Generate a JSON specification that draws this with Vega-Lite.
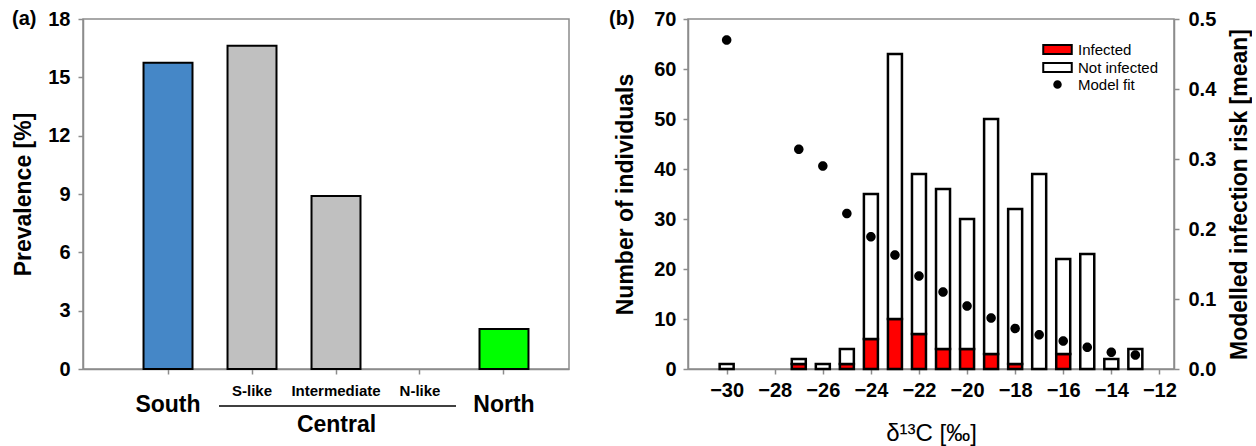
{
  "$schema": "https://vega.github.io/schema/vega-lite/v6.json",
  "background": "white",
  "padding": {"left": 11, "top": 8, "right": 0, "bottom": 0},
  "spacing": 38,
  "resolve": {"scale": {"fill": "independent", "shape": "independent"}, "legend": {"fill": "independent", "shape": "independent"}},
  "config": {
    "font": "Liberation Sans",
    "view": {"stroke": "#8c8c8c", "strokeWidth": 1.5},
    "axis": {
      "grid": false,
      "domainColor": "#8c8c8c",
      "domainWidth": 1.5,
      "tickColor": "#8c8c8c",
      "tickWidth": 1.5,
      "tickSize": 5,
      "labelFont": "Liberation Sans",
      "labelFontSize": 20,
      "labelFontWeight": "bold",
      "labelColor": "black",
      "titleFont": "Liberation Sans",
      "titleFontSize": 23,
      "titleFontWeight": "bold",
      "titleColor": "black"
    },
    "legend": {
      "orient": "none",
      "legendX": 362,
      "legendY": 23,
      "padding": 0,
      "symbolSize": 100,
      "symbolStrokeColor": "black",
      "symbolStrokeWidth": 2,
      "labelFont": "Liberation Sans",
      "labelFontSize": 15,
      "labelColor": "black",
      "labelOffset": 13,
      "rowPadding": 1
    },
    "title": {"font": "Liberation Sans", "fontSize": 20, "fontWeight": "bold", "color": "black"}
  },
  "datasets": {
    "prevalence": [
      {"population": "South", "prevalence": 15.75},
      {"population": "S-like", "prevalence": 16.63},
      {"population": "Intermediate", "prevalence": 8.9},
      {"population": "N-like", "prevalence": 0},
      {"population": "North", "prevalence": 2.06}
    ],
    "regions": [
      {"region": "Central", "first": "S-like", "last": "N-like"}
    ],
    "counts": [
      {"d13C": -30, "group": "Infected", "n": 0},
      {"d13C": -30, "group": "Not infected", "n": 1},
      {"d13C": -27, "group": "Infected", "n": 1},
      {"d13C": -27, "group": "Not infected", "n": 1},
      {"d13C": -26, "group": "Infected", "n": 0},
      {"d13C": -26, "group": "Not infected", "n": 1},
      {"d13C": -25, "group": "Infected", "n": 1},
      {"d13C": -25, "group": "Not infected", "n": 3},
      {"d13C": -24, "group": "Infected", "n": 6},
      {"d13C": -24, "group": "Not infected", "n": 29},
      {"d13C": -23, "group": "Infected", "n": 10},
      {"d13C": -23, "group": "Not infected", "n": 53},
      {"d13C": -22, "group": "Infected", "n": 7},
      {"d13C": -22, "group": "Not infected", "n": 32},
      {"d13C": -21, "group": "Infected", "n": 4},
      {"d13C": -21, "group": "Not infected", "n": 32},
      {"d13C": -20, "group": "Infected", "n": 4},
      {"d13C": -20, "group": "Not infected", "n": 26},
      {"d13C": -19, "group": "Infected", "n": 3},
      {"d13C": -19, "group": "Not infected", "n": 47},
      {"d13C": -18, "group": "Infected", "n": 1},
      {"d13C": -18, "group": "Not infected", "n": 31},
      {"d13C": -17, "group": "Infected", "n": 0},
      {"d13C": -17, "group": "Not infected", "n": 39},
      {"d13C": -16, "group": "Infected", "n": 3},
      {"d13C": -16, "group": "Not infected", "n": 19},
      {"d13C": -15, "group": "Infected", "n": 0},
      {"d13C": -15, "group": "Not infected", "n": 23},
      {"d13C": -14, "group": "Infected", "n": 0},
      {"d13C": -14, "group": "Not infected", "n": 2},
      {"d13C": -13, "group": "Infected", "n": 0},
      {"d13C": -13, "group": "Not infected", "n": 4}
    ],
    "fit": [
      {"d13C": -30, "group": "Model fit", "risk": 0.470},
      {"d13C": -27, "group": "Model fit", "risk": 0.314},
      {"d13C": -26, "group": "Model fit", "risk": 0.290},
      {"d13C": -25, "group": "Model fit", "risk": 0.222},
      {"d13C": -24, "group": "Model fit", "risk": 0.189},
      {"d13C": -23, "group": "Model fit", "risk": 0.163},
      {"d13C": -22, "group": "Model fit", "risk": 0.133},
      {"d13C": -21, "group": "Model fit", "risk": 0.110},
      {"d13C": -20, "group": "Model fit", "risk": 0.090},
      {"d13C": -19, "group": "Model fit", "risk": 0.073},
      {"d13C": -18, "group": "Model fit", "risk": 0.058},
      {"d13C": -17, "group": "Model fit", "risk": 0.049},
      {"d13C": -16, "group": "Model fit", "risk": 0.040},
      {"d13C": -15, "group": "Model fit", "risk": 0.031},
      {"d13C": -14, "group": "Model fit", "risk": 0.024},
      {"d13C": -13, "group": "Model fit", "risk": 0.020}
    ]
  },
  "hconcat": [
    {
      "width": 486,
      "height": 350,
      "title": {"text": "(a)", "anchor": "start", "frame": "group", "offset": -20, "dx": -71},
      "layer": [
        {
          "data": {"name": "prevalence"},
          "transform": [{"filter": "datum.prevalence > 0"}],
          "mark": {"type": "bar", "stroke": "black", "strokeWidth": 2},
          "encoding": {
            "x": {
              "field": "population",
              "type": "nominal",
              "sort": null,
              "scale": {
                "domain": ["South", "S-like", "Intermediate", "N-like", "North"],
                "paddingInner": 0.417,
                "paddingOuter": 0.6015,
                "align": 0.599
              },
              "axis": {
                "title": "Central",
                "titleX": 253,
                "titleY": 55,
                "titleBaseline": "middle",
                "titleAlign": "center",
                "labelAngle": 0,
                "labelBaseline": "middle",
                "labelFontSize": {"condition": {"test": "datum.value == 'South' || datum.value == 'North'", "value": 23}, "value": 15},
                "labelPadding": {"condition": {"test": "datum.value == 'South' || datum.value == 'North'", "value": 30}, "value": 16}
              }
            },
            "y": {
              "field": "prevalence",
              "type": "quantitative",
              "scale": {"domain": [0, 18], "nice": false},
              "axis": {
                "values": [0, 3, 6, 9, 12, 15, 18],
                "labelPadding": 8,
                "title": "Prevalence [%]",
                "titleX": -60,
                "titleY": 175,
                "titleBaseline": "middle",
                "titleAlign": "center"
              }
            },
            "fill": {
              "field": "population",
              "type": "nominal",
              "scale": {
                "domain": ["South", "S-like", "Intermediate", "N-like", "North"],
                "range": ["#4587c7", "#c0c0c0", "#c0c0c0", "#c0c0c0", "#00ff00"]
              },
              "legend": null
            }
          }
        },
        {
          "data": {"name": "regions"},
          "mark": {"type": "rule", "stroke": "black", "strokeWidth": 1.5, "xOffset": -33, "x2Offset": 36},
          "encoding": {
            "x": {"field": "first", "type": "nominal"},
            "x2": {"field": "last"},
            "y": {"datum": -1.9, "type": "quantitative"}
          }
        }
      ]
    },
    {
      "width": 486,
      "height": 350,
      "title": {"text": "(b)", "anchor": "start", "frame": "group", "offset": -20, "dx": -79},
      "layer": [
        {
          "data": {"name": "counts"},
          "transform": [{"filter": "datum.n > 0"}],
          "mark": {"type": "bar", "size": 14, "stroke": "black", "strokeWidth": 2.5},
          "encoding": {
            "x": {
              "field": "d13C",
              "type": "quantitative",
              "scale": {"domain": [-31.4, -11.6], "nice": false, "zero": false},
              "axis": {
                "values": [-30, -28, -26, -24, -22, -20, -18, -16, -14, -12],
                "labelPadding": 6,
                "title": "δ¹³C [‰]",
                "titleFontWeight": "normal",
                "titleFontSize": 24,
                "titleX": 243,
                "titleY": 64,
                "titleBaseline": "middle",
                "titleAlign": "center"
              }
            },
            "y": {
              "field": "n",
              "type": "quantitative",
              "stack": "zero",
              "scale": {"domain": [0, 70], "nice": false},
              "axis": {
                "values": [0, 10, 20, 30, 40, 50, 60, 70],
                "labelPadding": 7,
                "title": "Number of individuals",
                "titleX": -63,
                "titleY": 175,
                "titleBaseline": "middle",
                "titleAlign": "center"
              }
            },
            "fill": {
              "field": "group",
              "type": "nominal",
              "scale": {
                "domain": ["Infected", "Not infected", "Model fit"],
                "range": ["#ff0000", "#ffffff", "#000000"]
              },
              "legend": {"title": null}
            },
            "order": {"field": "group", "sort": "ascending"}
          }
        },
        {
          "data": {"name": "fit"},
          "mark": {"type": "point", "filled": true, "size": 214, "opacity": 1},
          "encoding": {
            "x": {"field": "d13C", "type": "quantitative"},
            "y": {
              "field": "risk",
              "type": "quantitative",
              "scale": {"domain": [0, 0.5], "nice": false},
              "axis": {
                "orient": "right",
                "values": [0, 0.1, 0.2, 0.3, 0.4, 0.5],
                "format": ".1f",
                "labelPadding": 9,
                "title": "Modelled infection risk [mean]",
                "titleAngle": -90,
                "titleX": 65,
                "titleY": 175,
                "titleBaseline": "middle",
                "titleAlign": "center"
              }
            },
            "fill": {
              "field": "group",
              "type": "nominal",
              "scale": {
                "domain": ["Infected", "Not infected", "Model fit"],
                "range": ["#ff0000", "#ffffff", "#000000"]
              },
              "legend": {"title": null}
            },
            "shape": {
              "field": "group",
              "type": "nominal",
              "scale": {
                "domain": ["Infected", "Not infected", "Model fit"],
                "range": [
                  "M-2.85,-0.9H2.85V0.9H-2.85Z",
                  "M-2.85,-0.9H2.85V0.9H-2.85Z",
                  "M0.65,0A0.65,0.65,0,1,1,-0.65,0A0.65,0.65,0,1,1,0.65,0Z"
                ]
              },
              "legend": {"title": null}
            }
          }
        }
      ],
      "resolve": {"scale": {"y": "independent"}}
    }
  ]
}
